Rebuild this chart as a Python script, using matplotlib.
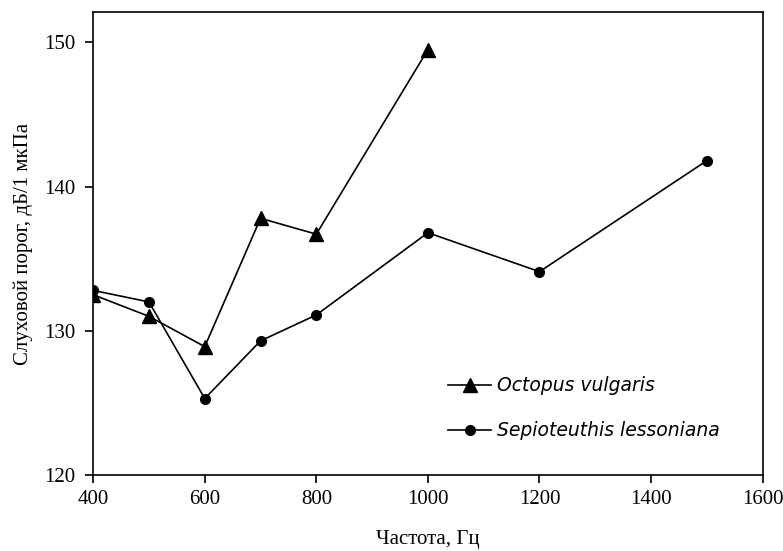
import matplotlib
matplotlib.use("Agg")
import matplotlib.pyplot as plt

# hearing thresholds
octopus_freq = [400, 500, 600, 700, 800, 1000]
octopus_thr = [132.5, 131.0, 128.9, 137.8, 136.7, 149.5]

sepio_freq = [400, 500, 600, 700, 800, 1000, 1200, 1500]
sepio_thr = [132.8, 132.0, 125.3, 129.3, 131.1, 136.8, 134.1, 141.8]

x_ticks = [400, 600, 800, 1000, 1200, 1400, 1600]
y_ticks = [120, 130, 140, 150]

plt.rcParams['font.family'] = ['Liberation Serif', 'DejaVu Serif']

fig = plt.figure(figsize=(7.83, 5.51), dpi=100)
ax = fig.add_axes([0.119, 0.138, 0.855, 0.840])

ax.plot(octopus_freq, octopus_thr, color='black', lw=1.2, marker='^',
        markersize=9.5, label='Octopus vulgaris')
ax.plot(sepio_freq, sepio_thr, color='black', lw=1.2, marker='o',
        markersize=7, label='Sepioteuthis lessoniana')

ax.set_xlim(400, 1600)
ax.set_ylim(120, 152.1)
ax.set_xticks(x_ticks)
ax.set_yticks(y_ticks)
ax.tick_params(direction='out', length=6, width=1.2, labelsize=15)
ax.tick_params(axis='x', pad=5)
ax.tick_params(axis='y', pad=7)
for s in ax.spines.values():
    s.set_linewidth(1.2)

ax.set_xlabel('Частота, Гц', fontsize=15, labelpad=15)
ax.set_ylabel('Слуховой порог, дБ/1 мкПа', fontsize=15, labelpad=8)

leg = ax.legend(loc='upper left', bbox_to_anchor=(0.505, 0.25), frameon=False,
                prop={'family': 'DejaVu Sans', 'style': 'italic', 'size': 13.5},
                handlelength=2.3, handletextpad=0.3, labelspacing=1.4)

fig.savefig('out.png', dpi=100)
